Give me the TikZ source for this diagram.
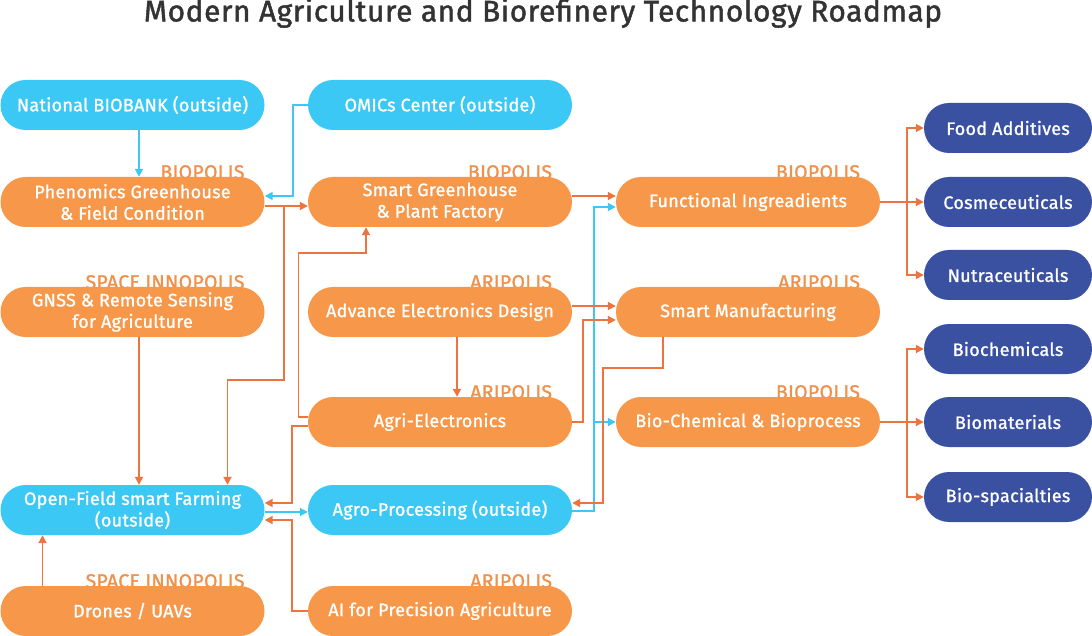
\documentclass[tikz,border=0pt]{standalone}
\usepackage{fontspec}
\setmainfont{Fira Sans}
\newfontfamily\medfont{Fira Sans}[FakeBold=1.2,LetterSpace=1.5]
\newfontfamily\titfont{Fira Sans}[FakeBold=1.5,LetterSpace=2]
\usetikzlibrary{arrows.meta,calc}
\definecolor{orfill}{HTML}{F7974A}
\definecolor{bufill}{HTML}{3CC8F4}
\definecolor{dbfill}{HTML}{3A51A2}
\definecolor{orline}{HTML}{EB7440}
\definecolor{orlab}{HTML}{F0904A}
\definecolor{titlec}{HTML}{333333}
\pgfdeclarelayer{bg}
\pgfsetlayers{bg,main}
\tikzset{
  box/.style={rectangle,rounded corners=25pt,minimum width=264pt,minimum height=50pt,inner sep=0pt,align=center,text=white,font=\medfont\fontsize{18}{21.5}\selectfont},
  obox/.style={box,fill=orfill},
  bbox/.style={box,fill=bufill},
  pbox/.style={box,fill=dbfill,minimum width=168pt},
  tag/.style={anchor=base east,text=orlab,font=\medfont\fontsize{19.5}{20}\selectfont,inner sep=0pt},
  oarr/.style={draw=orline,line width=1.8pt,-{Triangle[length=8pt,width=8pt]}},
  barr/.style={draw=bufill,line width=1.8pt,-{Triangle[length=8pt,width=8pt]}},
}
\begin{document}
\begin{tikzpicture}[x=1pt,y=-1pt]
\useasboundingbox (0,0) rectangle (1092,636);
\node[text=titlec,font=\titfont\fontsize{29.8}{32}\selectfont,inner sep=0pt] (title) at (543,13) {Modern Agriculture and Biorefinery Technology Roadmap};
% column 1
\node[bbox] (bb) at (132.5,105) {National BIOBANK (outside)};
\node[obox] (ph) at (132.5,202) {Phenomics Greenhouse\\\& Field Condition};
\node[obox] (gn) at (132.5,312) {GNSS \& Remote Sensing\\for Agriculture};
\node[bbox] (of) at (132.5,510) {Open-Field smart Farming\\(outside)};
\node[obox] (dr) at (132.5,611) {Drones / UAVs};
% column 2
\node[bbox] (om) at (440,105) {OMICs Center (outside)};
\node[obox] (sg) at (440,202) {Smart Greenhouse\\\& Plant Factory};
\node[obox] (ae) at (440,312) {Advance Electronics Design};
\node[obox] (ag) at (440,422) {Agri-Electronics};
\node[bbox] (ap) at (440,510) {Agro-Processing (outside)};
\node[obox] (ai) at (440,611) {AI for Precision Agriculture};
% column 3
\node[obox] (fi) at (748,202) {Functional Ingreadients};
\node[obox] (sm) at (748,312) {Smart Manufacturing};
\node[obox] (bc) at (748,422) {Bio-Chemical \& Bioprocess};
% column 4
\node[pbox] (fa) at (1008,128) {Food Additives};
\node[pbox] (co) at (1008,202) {Cosmeceuticals};
\node[pbox] (nu) at (1008,275) {Nutraceuticals};
\node[pbox] (bch) at (1008,349) {Biochemicals};
\node[pbox] (bm) at (1008,422) {Biomaterials};
\node[pbox] (bs) at (1008,497) {Bio-spacialties};
% tags
\begin{pgfonlayer}{bg}
\node[tag] (t1) at ($(ph.north east)+(-20,2)$) {BIOPOLIS};
\node[tag] (t2) at ($(sg.north east)+(-20,2)$) {BIOPOLIS};
\node[tag] (t3) at ($(fi.north east)+(-20,2)$) {BIOPOLIS};
\node[tag] (t4) at ($(gn.north east)+(-20,2)$) {SPACE INNOPOLIS};
\node[tag] (t5) at ($(ae.north east)+(-20,2)$) {ARIPOLIS};
\node[tag] (t6) at ($(sm.north east)+(-20,2)$) {ARIPOLIS};
\node[tag] (t7) at ($(ag.north east)+(-20,2)$) {ARIPOLIS};
\node[tag] (t8) at ($(bc.north east)+(-20,2)$) {BIOPOLIS};
\node[tag] (t9) at ($(dr.north east)+(-20,2)$) {SPACE INNOPOLIS};
\node[tag] (t10) at ($(ai.north east)+(-20,2)$) {ARIPOLIS};
\end{pgfonlayer}
% blue connectors
\draw[barr] ($(bb.south)+(6.5,0)$) -- ($(ph.north)+(6.5,0)$);
\draw[barr] (om.west) -| (293,196) -- ($(ph.east)+(0,-6)$);
\draw[barr] ($(of.east)+(0,2)$) -- ($(ap.west)+(0,2)$);
\draw[barr] ($(ap.east)+(0,1)$) -| (594,207) -- ($(fi.west)+(0,5)$);
\coordinate (bj) at (594,422);
\draw[barr] (bj) -- (bc.west);
% orange connectors
\draw[oarr] ($(ph.east)+(0,4)$) -- ($(sg.west)+(0,4)$);
\draw[oarr] ($(ph.east)+(0,4)$) -| (284,380) -| ($(of.north)+(95,0)$);
\draw[oarr] ($(gn.south)+(6.5,0)$) -- ($(of.north)+(6.5,0)$);
\draw[oarr] ($(dr.north)+(-90,0)$) -- ($(of.south)+(-90,0)$);
\draw[oarr] ($(ag.west)+(0,-5)$) -| (298.5,253) -| ($(sg.south)+(-74,0)$);
\draw[oarr] ($(ag.west)+(0,4)$) -| (292,503) -- ($(of.east)+(0,-7)$);
\draw[oarr] (ai.west) -| (292,520) -- ($(of.east)+(0,10)$);
\draw[oarr] ($(ae.south)+(17,0)$) -- ($(ag.north)+(17,0)$);
\draw[oarr] ($(ae.east)+(0,-6)$) -- ($(sm.west)+(0,-6)$);
\draw[oarr] ($(sg.east)+(0,-6)$) -- ($(fi.west)+(0,-6)$);
\draw[oarr] (ag.east) -| (583,320) -- ($(sm.west)+(0,8)$);
\draw[oarr] ($(sm.south)+(-85,0)$) |- (603,368) |- ($(ap.east)+(0,-7)$);
% fan-outs
\coordinate (j1) at (907,202);
\draw[oarr] (fi.east) -- (co.west);
\draw[oarr] (j1) |- (fa.west);
\draw[oarr] (j1) |- (nu.west);
\coordinate (j2) at (907,422);
\draw[oarr] (bc.east) -- (bm.west);
\draw[oarr] (j2) |- (bch.west);
\draw[oarr] (j2) |- (bs.west);
\end{tikzpicture}
\end{document}
